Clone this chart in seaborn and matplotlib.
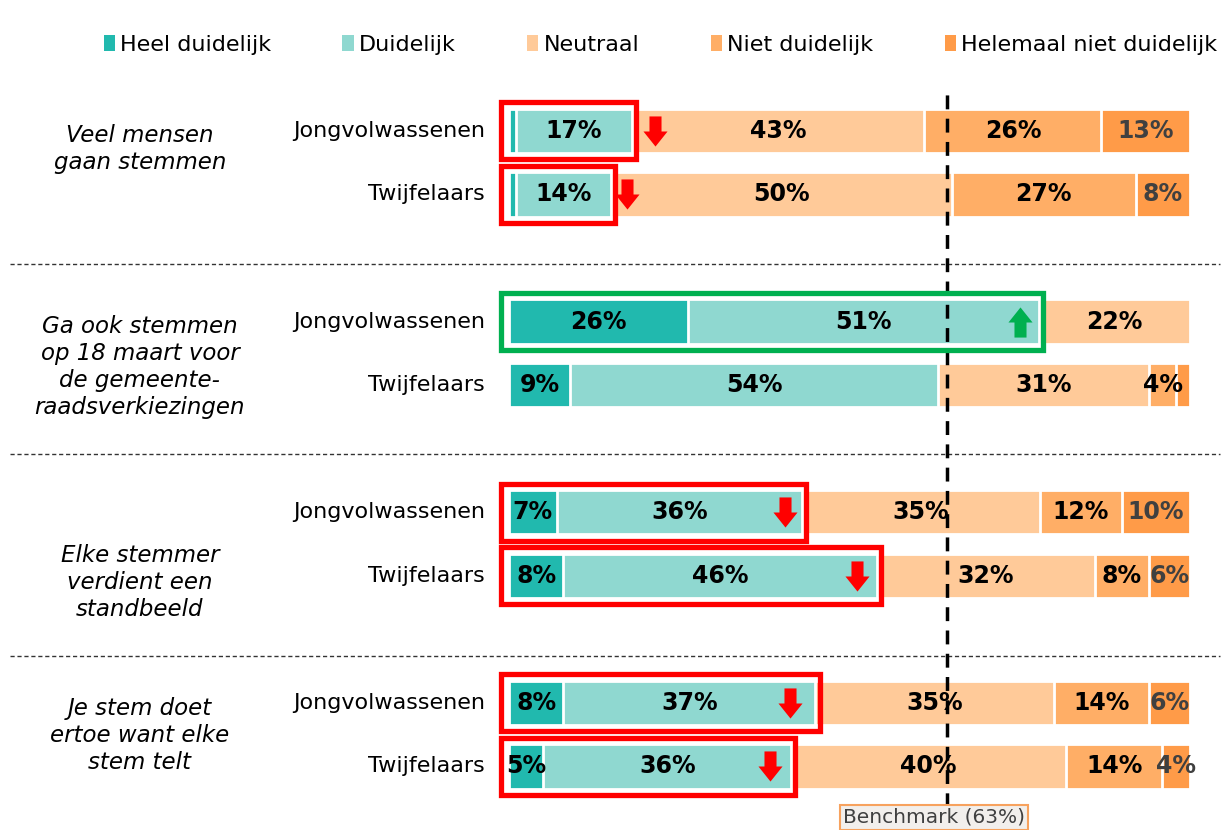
import numpy as np
import pandas as pd
import matplotlib
matplotlib.use("Agg")
import matplotlib.pyplot as plt
import seaborn as sns
from matplotlib.patches import Patch, Rectangle
from matplotlib.path import Path
import matplotlib.transforms as mtransforms

# data
statements = ["Veel mensen\ngaan stemmen",
              "Ga ook stemmen\nop 18 maart voor\nde gemeente-\nraadsverkiezingen",
              "Elke stemmer\nverdient een\nstandbeeld",
              "Je stem doet\nertoe want elke\nstem telt"]
groups = ["Jongvolwassenen", "Twijfelaars"] * 4
categories = ["Heel duidelijk", "Duidelijk", "Neutraal", "Niet duidelijk", "Helemaal niet duidelijk"]
heel = [1, 1, 26, 9, 7, 8, 8, 5]
duidelijk = [17, 14, 51, 54, 36, 46, 37, 36]
neutraal = [43, 50, 22, 31, 35, 32, 35, 40]
niet = [26, 27, 0, 4, 12, 8, 14, 14]
helemaal = [13, 8, 0, 2, 10, 6, 6, 4]
benchmark = 63
# change vs benchmark per bar: -1 lower, 1 higher, 0 none
change = [-1, -1, 1, 0, -1, -1, -1, -1]

colors = ["#21B9AE", "#8FD8D0", "#FFCA99", "#FFAE66", "#FF9B48"]

ypos = [0, 1, 3, 4, 6, 7, 9, 10]
df = pd.DataFrame({"pos": ypos, "group": groups})
series = [heel, duidelijk, neutraal, niet, helemaal]
for cat, vals in zip(categories, series):
    df[cat] = vals
# rounded percentages don't always add to 100, stretch each bar to full width
share = df[categories].div(df[categories].sum(axis=1), axis=0) * 100
cum = share.cumsum(axis=1)

fig = plt.figure(figsize=(12.23, 8.30), dpi=100)
ax = fig.add_axes([509 / 1223, 0, 681 / 1223, (830 - 88) / 830])

# stacked bars: draw cumulative totals from the back to the front
for i in range(len(categories) - 1, -1, -1):
    d = pd.DataFrame({"pos": df["pos"], "val": cum[categories[i]]})
    sns.barplot(data=d, x="val", y="pos", orient="y", native_scale=True,
                color=colors[i], saturation=1, width=0.7, errorbar=None,
                edgecolor="white", linewidth=2, ax=ax)

ax.set_xlim(0, 100)
ax.set_ylim(11.0, -0.675)
ax.axis("off")

# value labels
for j in range(len(df)):
    left = 0
    for i, cat in enumerate(categories):
        v = df[cat].iloc[j]
        w = share[cat].iloc[j]
        if v >= 3:
            ax.text(left + w / 2, df["pos"].iloc[j], f"{v}%", ha="center", va="center",
                    fontsize=17, fontweight="bold",
                    color="#404040" if i == 4 else "black")
        left += w

# benchmark line (sits a bit right of 63 on the bar scale in the original)
ax.axvline(benchmark + 1.3, ymin=0, ymax=1, color="black", lw=2.5, ls=(0, (4, 2.7)), zorder=5)
ax.text(benchmark - 0.6, 10.8, "Benchmark (63%)", ha="center", va="center", fontsize=14.5,
        color="#404040", zorder=6, clip_on=False,
        bbox=dict(boxstyle="square,pad=0.15", fc="#F2EFEC", ec="#F7A25E", lw=1.5))

# boxes + arrows
down = Path([(-0.2, 0.5), (0.2, 0.5), (0.2, 0.0), (0.4, 0.0), (0, -0.5),
             (-0.4, 0.0), (-0.2, 0.0), (-0.2, 0.5)], closed=True)
up = Path([(x, -y) for x, y in down.vertices], closed=True)
arrow_x = [21.4, 17.3, 75.0, None, 40.5, 51.1, 41.3, 38.3]
for j in range(len(df)):
    if change[j] == 0:
        continue
    c = "#00B050" if change[j] > 0 else "#FF0000"
    right = cum["Duidelijk"].iloc[j] + 0.6
    y = df["pos"].iloc[j]
    ax.add_patch(Rectangle((-1.2, y - 0.45), right + 1.2, 0.9, fill=False,
                           ec=c, lw=3.8, zorder=7, clip_on=False))
    ax.scatter([arrow_x[j]], [y], marker=down if change[j] < 0 else up,
               s=470, color=c, zorder=8, linewidths=0)

# row labels and statement labels
trans = mtransforms.blended_transform_factory(ax.transAxes, ax.transData)
for y, g in zip(df["pos"], df["group"]):
    ax.text(-0.035, y, g, transform=trans, ha="right", va="center", fontsize=16)
for y, s in zip([0.28, 3.72, 7.1, 9.51], statements):
    ax.text(-0.542, y, s, transform=trans, ha="center", va="center", fontsize=16.5,
            style="italic", linespacing=1.22)

# separators
for y in [2.09, 5.08, 8.27]:
    ax.plot([-0.733, 1.044], [y, y], transform=trans, color="#333333", lw=1,
            ls=(0, (3, 2)), clip_on=False)

handles = [Patch(facecolor=c, edgecolor="none") for c in colors]
fig.legend(handles, categories, loc="center", bbox_to_anchor=(0.54, 0.946), ncol=5,
           frameon=False, fontsize=16, handlelength=0.5, handleheight=0.75,
           handletextpad=0.25, columnspacing=3.2)

fig.savefig("out.png", dpi=100)
